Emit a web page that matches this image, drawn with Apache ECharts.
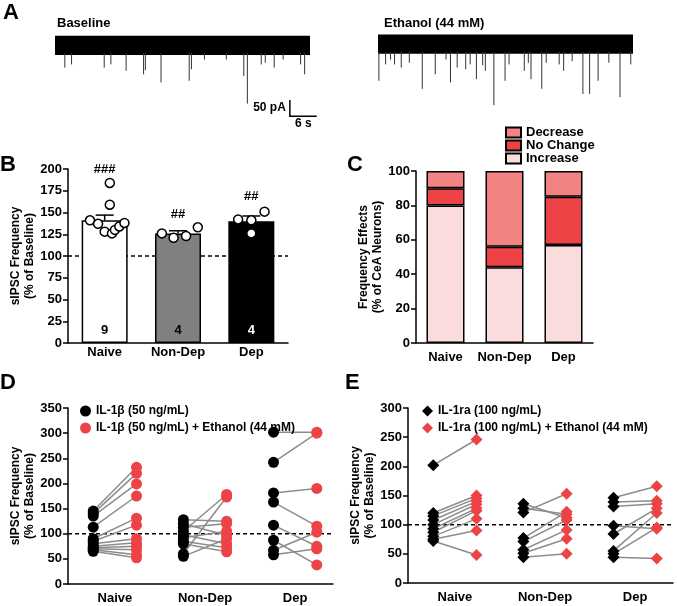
<!DOCTYPE html>
<html><head><meta charset="utf-8">
<script src="https://cdn.jsdelivr.net/npm/echarts/dist/echarts.min.js"></script>
<style>html,body{margin:0;padding:0;background:#fff}#main{width:677px;height:606px}</style>
</head><body><div id="main"></div>
<script>
// ---------------- DATA ----------------
const groups = ['Naive', 'Non-Dep', 'Dep'];

// Panel A traces (time s, peak current pA)
const traceBandBaseline = [0, 57, 12, -48];
const traceBandEthanol = [0, 57, 16, -44];
const spikesBaseline = [[2.2,-87],[3.7,-77],[11.0,-87],[12.5,-77],[15.9,-97],[19.8,-108],[20.2,-95],[23.7,-133],[30.0,-128],[30.5,-92],[33.4,-62],[38.3,-62],[42.2,-113],[43.0,-199],[46.1,-77],[47.0,-72],[49.0,-87],[51.0,-62],[54.9,-77],[55.8,-108]];
const spikesEthanol = [[0.2,-128],[1.7,-77],[2.8,-62],[3.7,-77],[5.2,-87],[7.0,-72],[9.9,-153],[12.8,-108],[15.2,-62],[16.2,-133],[17.7,-87],[19.6,-92],[20.6,-77],[22.0,-123],[23.4,-80],[24.0,-97],[25.9,-204],[28.4,-128],[29.3,-77],[32.7,-97],[33.6,-72],[34.2,-123],[36.6,-153],[37.6,-72],[40.5,-77],[41.5,-97],[43.4,-67],[45.8,-169],[47.3,-169],[49.2,-128],[51.6,-72],[54.1,-179],[56.5,-77]];
const scaleBar = [[52.5, -238, 6, 50]];
const scaleBarLabels = ['50 pA', '6 s'];

// Panel B
const bMeans = [141, 126, 140];
const bSemTop = [147, 129, 146];
const bPtsNaive = [[0.07,184],[0.07,159],[-0.2,141],[-0.09,137],[0.0,128],[0.1,126],[0.14,130],[0.2,134],[0.27,138]];
const bPtsNonDep = [[-0.22,126],[-0.06,121],[0.11,123],[0.27,133]];
const bPtsDep = [[-0.18,142],[0.0,141],[0.0,126],[0.18,151]];
const bN = ['9', '4', '4'];
const bNY = [15, 15, 15];
const bSig = ['###', '##', '##'];
const bSigY = [200, 148, 168];

// Panel C (% of neurons)
const cIncrease = [80, 44, 57];
const cNoChange = [10, 12, 28];
const cDecrease = [10, 44, 15];

// Panel D pairs [IL-1b, IL-1b + EtOH]
const dNaive = [[145,232],[140,220],[135,199],[113,175],[90,131],[85,117],[80,90],[75,82],[72,75],[70,68],[68,58],[65,52]];
const dNonDep = [[128,125],[120,97],[113,120],[105,178],[98,80],[92,105],[85,72],[80,64],[60,173],[55,90]];
const dDep = [[302,302],[242,300],[181,190],[163,115],[117,75],[87,38],[67,103],[58,70]];

// Panel E pairs [IL-1ra, IL-1ra + EtOH]
const eNaive = [[202,246],[120,150],[115,145],[108,140],[100,135],[93,128],[87,124],[80,110],[75,90],[72,48]];
const eNonDep = [[136,112],[128,118],[121,153],[77,122],[71,108],[57,91],[51,76],[44,50]];
const eDep = [[146,166],[139,141],[131,136],[98,93],[84,128],[55,120],[50,95],[44,42]];

const dLabels = ['IL-1\u03b2 (50 ng/mL)', 'IL-1\u03b2 (50 ng/mL) + Ethanol (44 mM)'];
const eLabels = ['IL-1ra (100 ng/mL)', 'IL-1ra (100 ng/mL) + Ethanol (44 mM)'];

// ---------------- STYLE ----------------
const FONT = '"Liberation Sans", Arial, Helvetica, sans-serif';
const RED = '#EE4346';
const OFF = 0.24;

const chart = echarts.init(document.getElementById('main'), null, {renderer: 'canvas'});

function yAx(grid, max, interval, name, gap) {
  return {
    type: 'value', gridIndex: grid, min: 0, max: max, interval: interval,
    name: name, nameLocation: 'middle', nameGap: gap,
    nameTextStyle: {fontFamily: FONT, fontWeight: 'bold', fontSize: 12, color: '#000', lineHeight: 14},
    axisLine: {show: true, onZero: false, lineStyle: {color: '#000', width: 1.5}},
    axisTick: {show: true, length: 5, lineStyle: {color: '#000', width: 1.5}},
    axisLabel: {color: '#000', fontFamily: FONT, fontWeight: 'bold', fontSize: 13, margin: 6},
    splitLine: {show: false}
  };
}
function catAx(grid, margin) {
  return {
    type: 'category', gridIndex: grid, data: groups,
    axisLine: {show: true, onZero: false, lineStyle: {color: '#000', width: 1.5}},
    axisTick: {show: false},
    axisLabel: {interval: 0, color: '#000', fontFamily: FONT, fontWeight: 'bold', fontSize: 13, margin: margin},
    splitLine: {show: false}
  };
}
function pairAx(grid) {
  return {
    type: 'value', gridIndex: grid, min: -0.52, max: 2.42,
    axisLine: {show: true, onZero: false, lineStyle: {color: '#000', width: 1.5}},
    axisTick: {show: false},
    axisLabel: {customValues: [0, 1, 2], formatter: v => groups[Math.round(v)], color: '#000',
      fontFamily: FONT, fontWeight: 'bold', fontSize: 13, margin: 8},
    splitLine: {show: false}
  };
}
function hiddenAx(type, grid, min, max) {
  return {type: type, gridIndex: grid, min: min, max: max, show: false, axisLine: {onZero: false}, splitLine: {show: false}};
}

// render helpers
function bandRender(params, api) {
  const a = api.coord([api.value(0), api.value(2)]);
  const b = api.coord([api.value(1), api.value(3)]);
  return {type: 'rect', shape: {x: a[0], y: a[1], width: b[0] - a[0], height: b[1] - a[1]}, style: {fill: '#000'}};
}
function spikeRender(bottom) {
  return function (params, api) {
    const a = api.coord([api.value(0), bottom]);
    const b = api.coord([api.value(0), api.value(1)]);
    return {type: 'line', shape: {x1: a[0], y1: a[1] - 2, x2: b[0], y2: b[1]}, style: {stroke: '#333', lineWidth: 1}};
  };
}
function scaleRender(params, api) {
  const t = api.value(0), v = api.value(1), dt = api.value(2), dv = api.value(3);
  const c = api.coord([t, v]);
  const top = api.coord([t, v + dv]);
  const right = api.coord([t + dt, v]);
  const font = 'bold 12px ' + FONT;
  return {type: 'group', children: [
    {type: 'polyline', shape: {points: [top, c, right]}, style: {stroke: '#000', lineWidth: 1.5, fill: null}},
    {type: 'text', style: {text: scaleBarLabels[0], x: c[0] - 4, y: (c[1] + top[1]) / 2, align: 'right', verticalAlign: 'middle', textAlign: 'right', textVerticalAlign: 'middle', font: font, fill: '#000'}},
    {type: 'text', style: {text: scaleBarLabels[1], x: (c[0] + right[0]) / 2, y: c[1] + 2, align: 'center', verticalAlign: 'top', textAlign: 'center', textVerticalAlign: 'top', font: font, fill: '#000'}}
  ]};
}
function errRender(params, api) {
  const x = api.value(0);
  const p0 = api.coord([x, api.value(1)]);
  const p1 = api.coord([x, api.value(2)]);
  const h = 9;
  return {type: 'group', children: [
    {type: 'line', shape: {x1: p0[0], y1: p0[1], x2: p1[0], y2: p1[1]}, style: {stroke: '#000', lineWidth: 1.5}},
    {type: 'line', shape: {x1: p1[0] - h, y1: p1[1], x2: p1[0] + h, y2: p1[1]}, style: {stroke: '#000', lineWidth: 1.5}}
  ]};
}
function textRender(texts, colors) {
  return function (params, api) {
    const p = api.coord([api.value(0), api.value(1)]);
    return {type: 'text', style: {text: texts[params.dataIndex], x: p[0], y: p[1], align: 'center', verticalAlign: 'middle',
      textAlign: 'center', textVerticalAlign: 'middle', font: 'bold 13px ' + FONT, fill: colors[params.dataIndex]}};
  };
}
function pairRender(params, api) {
  const a = api.coord([api.value(0), api.value(1)]);
  const b = api.coord([api.value(2), api.value(3)]);
  return {type: 'line', shape: {x1: a[0], y1: a[1], x2: b[0], y2: b[1]}, style: {stroke: '#8c8c8c', lineWidth: 1.5}};
}
function pairData(sets) {
  const out = [];
  sets.forEach((arr, i) => arr.forEach(p => out.push([i - OFF, p[0], i + OFF, p[1]])));
  return out;
}
function sidePoints(sets, side) {
  const out = [];
  sets.forEach((arr, i) => arr.forEach(p => out.push([i + (side ? OFF : -OFF), p[side]])));
  return out;
}
const dSets = [dNaive, dNonDep, dDep];
const eSets = [eNaive, eNonDep, eDep];

const bPoints = [];
[bPtsNaive, bPtsNonDep, bPtsDep].forEach((arr, i) => arr.forEach(p => bPoints.push([i + p[0], p[1]])));

const option = {
  animation: false,
  backgroundColor: '#fff',
  grid: [
    {left: 55, top: 30, width: 255, height: 90},
    {left: 378, top: 30, width: 255, height: 90},
    {left: 68, top: 169, width: 220, height: 174},
    {left: 416, top: 171, width: 177, height: 172},
    {left: 68, top: 408, width: 265, height: 176},
    {left: 408, top: 408, width: 265, height: 175}
  ],
  xAxis: [
    hiddenAx('value', 0, 0, 57),
    hiddenAx('value', 1, 0, 57),
    catAx(2, 3),
    hiddenAx('value', 2, -0.5, 2.5),
    catAx(3, 8),
    pairAx(4),
    pairAx(5)
  ],
  yAxis: [
    hiddenAx('value', 0, -250, 30),
    hiddenAx('value', 1, -250, 30),
    yAx(2, 200, 25, 'sIPSC Frequency\n(% of Baseline)', 28),
    yAx(3, 100, 20, 'Frequency Effects\n(% of CeA Neurons)', 24),
    yAx(4, 350, 50, 'sIPSC Frequency\n(% of Baseline)', 30),
    yAx(5, 300, 50, 'sIPSC Frequency\n(% of Baseline)', 30)
  ],
  legend: [
    {data: ['Decrease', 'No Change', 'Increase'], orient: 'vertical', left: 500, top: 121,
      itemWidth: 15, itemHeight: 10, itemGap: 0, selectedMode: false, icon: 'rect',
      textStyle: {fontFamily: FONT, fontWeight: 'bold', fontSize: 13, color: '#000', lineHeight: 12.5}},
    {data: dLabels, orient: 'vertical', left: 75, top: 400, itemWidth: 11, itemHeight: 11, itemGap: 5,
      selectedMode: false, icon: 'circle', textStyle: {fontFamily: FONT, fontWeight: 'bold', fontSize: 12, color: '#000', lineHeight: 11}},
    {data: eLabels, orient: 'vertical', left: 417, top: 400, itemWidth: 11, itemHeight: 11, itemGap: 5,
      selectedMode: false, icon: 'diamond', textStyle: {fontFamily: FONT, fontWeight: 'bold', fontSize: 12, color: '#000', lineHeight: 11}}
  ],
  graphic: [
    {type: 'text', left: 3, top: 2, style: {text: 'A', font: 'bold 22px ' + FONT, fill: '#000'}},
    {type: 'text', left: 0, top: 154, style: {text: 'B', font: 'bold 22px ' + FONT, fill: '#000'}},
    {type: 'text', left: 347, top: 154, style: {text: 'C', font: 'bold 22px ' + FONT, fill: '#000'}},
    {type: 'text', left: 0, top: 372, style: {text: 'D', font: 'bold 22px ' + FONT, fill: '#000'}},
    {type: 'text', left: 345, top: 372, style: {text: 'E', font: 'bold 22px ' + FONT, fill: '#000'}},
    {type: 'text', left: 57, top: 17, style: {text: 'Baseline', font: 'bold 13px ' + FONT, fill: '#000'}},
    {type: 'text', left: 384, top: 17, style: {text: 'Ethanol (44 mM)', font: 'bold 13px ' + FONT, fill: '#000'}}
  ],
  series: [
    // Panel A
    {type: 'custom', xAxisIndex: 0, yAxisIndex: 0, renderItem: bandRender, data: [traceBandBaseline], encode: {x: [0, 1], y: [2, 3]}, silent: true},
    {type: 'custom', xAxisIndex: 0, yAxisIndex: 0, renderItem: spikeRender(traceBandBaseline[3]), data: spikesBaseline, silent: true},
    {type: 'custom', xAxisIndex: 0, yAxisIndex: 0, renderItem: scaleRender, data: scaleBar, clip: false, silent: true},
    {type: 'custom', xAxisIndex: 1, yAxisIndex: 1, renderItem: bandRender, data: [traceBandEthanol], encode: {x: [0, 1], y: [2, 3]}, silent: true},
    {type: 'custom', xAxisIndex: 1, yAxisIndex: 1, renderItem: spikeRender(traceBandEthanol[3]), data: spikesEthanol, silent: true},
    // Panel B
    {type: 'line', xAxisIndex: 3, yAxisIndex: 2, data: [[-0.5, 100], [2.5, 100]], symbol: 'none', z: 1,
      lineStyle: {color: '#000', width: 1.5, type: [4, 3]}, silent: true},
    {type: 'bar', xAxisIndex: 2, yAxisIndex: 2, barWidth: 46, z: 3,
      data: bMeans.map((v, i) => ({value: v, itemStyle: {color: ['#ffffff', '#808080', '#000000'][i]}})),
      itemStyle: {borderColor: '#000', borderWidth: 1.5}},
    {type: 'custom', xAxisIndex: 3, yAxisIndex: 2, renderItem: errRender, z: 4,
      data: bMeans.map((m, i) => [i, m, bSemTop[i]]), encode: {x: 0, y: [1, 2]}},
    {type: 'scatter', xAxisIndex: 3, yAxisIndex: 2, data: bPoints, symbolSize: 9, z: 5,
      itemStyle: {color: '#fff', borderColor: '#000', borderWidth: 1.5, opacity: 1}},
    {type: 'custom', xAxisIndex: 3, yAxisIndex: 2, z: 6, renderItem: textRender(bSig, ['#000', '#000', '#000']),
      data: bSig.map((s, i) => [i, bSigY[i]])},
    {type: 'custom', xAxisIndex: 3, yAxisIndex: 2, z: 6, renderItem: textRender(bN, ['#000', '#000', '#fff']),
      data: bN.map((s, i) => [i, bNY[i]])},
    // Panel C
    {name: 'Increase', type: 'bar', stack: 'c', xAxisIndex: 4, yAxisIndex: 3, barWidth: 38, data: cIncrease,
      itemStyle: {color: '#FADCDD', borderColor: '#000', borderWidth: 1.5}},
    {name: 'No Change', type: 'bar', stack: 'c', xAxisIndex: 4, yAxisIndex: 3, barWidth: 38, data: cNoChange,
      itemStyle: {color: '#EE4346', borderColor: '#000', borderWidth: 1.5}},
    {name: 'Decrease', type: 'bar', stack: 'c', xAxisIndex: 4, yAxisIndex: 3, barWidth: 38, data: cDecrease,
      itemStyle: {color: '#F28383', borderColor: '#000', borderWidth: 1.5}},
    // Panel D
    {type: 'line', xAxisIndex: 5, yAxisIndex: 4, data: [[-0.52, 100], [2.42, 100]], symbol: 'none', z: 1,
      lineStyle: {color: '#000', width: 1.5, type: [4, 3]}, silent: true},
    {type: 'custom', xAxisIndex: 5, yAxisIndex: 4, renderItem: pairRender, data: pairData(dSets), encode: {x: [0, 2], y: [1, 3]}, z: 2},
    {name: dLabels[0], type: 'scatter', xAxisIndex: 5, yAxisIndex: 4, data: sidePoints(dSets, 0), symbol: 'circle', symbolSize: 11, z: 3,
      itemStyle: {color: '#000', opacity: 1}},
    {name: dLabels[1], type: 'scatter', xAxisIndex: 5, yAxisIndex: 4, data: sidePoints(dSets, 1), symbol: 'circle', symbolSize: 11, z: 4,
      itemStyle: {color: RED, opacity: 1}},
    // Panel E
    {type: 'line', xAxisIndex: 6, yAxisIndex: 5, data: [[-0.52, 100], [2.42, 100]], symbol: 'none', z: 1,
      lineStyle: {color: '#000', width: 1.5, type: [4, 3]}, silent: true},
    {type: 'custom', xAxisIndex: 6, yAxisIndex: 5, renderItem: pairRender, data: pairData(eSets), encode: {x: [0, 2], y: [1, 3]}, z: 2},
    {name: eLabels[0], type: 'scatter', xAxisIndex: 6, yAxisIndex: 5, data: sidePoints(eSets, 0), symbol: 'diamond', symbolSize: 12, z: 3,
      itemStyle: {color: '#000', opacity: 1}},
    {name: eLabels[1], type: 'scatter', xAxisIndex: 6, yAxisIndex: 5, data: sidePoints(eSets, 1), symbol: 'diamond', symbolSize: 12, z: 4,
      itemStyle: {color: RED, opacity: 1}}
  ]
};
chart.setOption(option);
</script>
</body></html>
